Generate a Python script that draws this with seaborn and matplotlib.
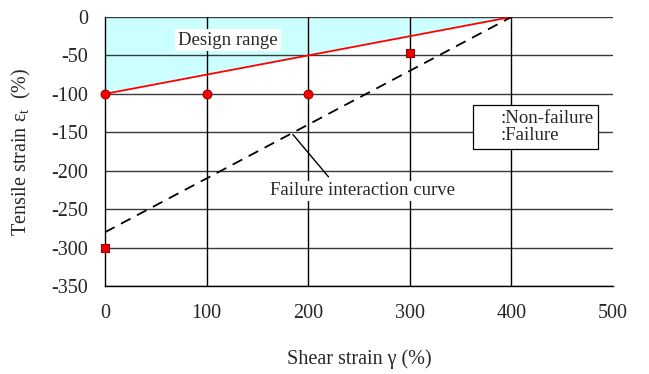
import matplotlib
matplotlib.use("Agg")
import matplotlib.pyplot as plt
import seaborn as sns
from matplotlib.lines import Line2D

# Data
design_x = [0, 0, 400]
design_y = [0, -100, 0]
design_line_x = [0, 400]
design_line_y = [-100, 0]
failure_curve_x = [0, 400]
failure_curve_y = [-280, 0]
nonfail_x = [0, 100, 200]
nonfail_y = [-100, -100, -100]
fail_x = [300, 0]
fail_y = [-47, -300]
xticks = [0, 100, 200, 300, 400, 500]
yticks = [0, -50, -100, -150, -200, -250, -300, -350]

sns.set_style("white")
plt.rcParams['font.family'] = ['Liberation Serif', 'DejaVu Serif']
plt.rcParams['mathtext.fontset'] = 'custom'
plt.rcParams['mathtext.rm'] = 'Liberation Serif'

fig = plt.figure(figsize=(6.49, 3.74), dpi=100)
ax = fig.add_axes([105/649, 1-286/374, (613-105)/649, (286-17)/374])

ax.set_xlim(0, 500)
ax.set_ylim(-350, 0)

ax.fill(design_x, design_y, color='#ccffff', zorder=0.5, lw=0)

# grid
for y in yticks:
    ax.axhline(y, color='#3a3a3a', lw=1.0, zorder=1)
for x in xticks[1:-1]:
    ax.axvline(x, color='black', lw=1.0, zorder=1)

sns.lineplot(x=design_line_x, y=design_line_y, ax=ax, color='#ff0000', lw=1.3, zorder=3)
sns.lineplot(x=failure_curve_x, y=failure_curve_y, ax=ax, color='black', lw=1.3,
             linestyle=(0, (6, 4)), zorder=3)

sns.scatterplot(x=nonfail_x, y=nonfail_y, ax=ax, marker='o', s=40, color='#ff0000',
                edgecolor='#990000', linewidth=0.8, zorder=5, clip_on=False)
sns.scatterplot(x=fail_x, y=fail_y, ax=ax, marker='s', s=40, color='#ee0000',
                edgecolor='#990000', linewidth=0.8, zorder=5, clip_on=False)

ax.text(121, -30, "Design range", fontsize=13.5, ha='center', va='center', zorder=6,
        bbox=dict(facecolor='white', edgecolor='none', pad=2))
ax.text(253, -226, "Failure interaction curve", fontsize=13.5, ha='center', va='center', zorder=6,
        bbox=dict(facecolor='white', edgecolor='none', pad=1))
ax.plot([185, 220], [-153, -208], color='black', lw=1.0, zorder=6)

# legend box
handles = [Line2D([], [], linestyle='none', marker=None),
           Line2D([], [], linestyle='none', marker=None)]
leg = ax.legend(handles, [":Non-failure", ":Failure"], loc='upper left',
                bbox_to_anchor=((473-105)/508, 1-(105-17)/269), fontsize=13.5,
                frameon=True, fancybox=False, edgecolor='black', framealpha=1,
                borderpad=0.25, labelspacing=0.0, handlelength=1.0, handletextpad=0.2,
                borderaxespad=0)
leg.get_frame().set_linewidth(0.9)
leg.set_zorder(7)

ax.set_xticks(xticks)
ax.set_yticks(yticks)
ax.set_xticklabels([str(v) for v in xticks])
ax.set_yticklabels([str(v) for v in yticks])
ax.tick_params(axis='x', length=0, pad=13, labelsize=14.5)
ax.tick_params(axis='y', length=0, pad=12, labelsize=14.5)

for s in ['top', 'right']:
    ax.spines[s].set_visible(False)
for s in ['left', 'bottom']:
    ax.spines[s].set_color('black')
    ax.spines[s].set_linewidth(1.0)

ax.set_xlabel("Shear strain γ (%)", fontsize=14.5, labelpad=19)
ax.set_ylabel(r"Tensile strain ε$_\mathrm{t}$  (%)", fontsize=14.5, labelpad=13)

fig.savefig("out.png", dpi=100)
